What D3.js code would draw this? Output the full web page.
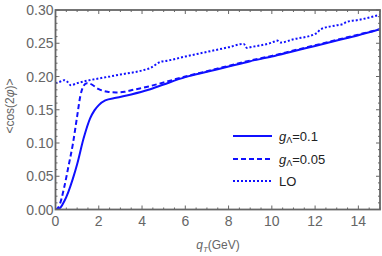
<!DOCTYPE html>
<html>
<head>
<meta charset="utf-8">
<style>
  body { margin: 0; background: #fff; }
  svg { display: block; font-family: "Liberation Sans", Arial, sans-serif; }
</style>
</head>
<body>
<svg id="chart" width="382" height="256"></svg>
<script src="https://cdn.jsdelivr.net/npm/d3@7"></script>
<script>
// g_Λ = 0.1 (solid)
var qSolid = [0, 0.2, 0.4, 0.6, 0.8, 1.0, 1.3, 1.6, 1.8, 2.0, 2.3, 2.8, 3.5, 4.3, 5, 6, 7, 8, 9, 10, 11, 12, 13, 14, 15];
var vSolid = [0, 0.002, 0.012, 0.027, 0.046, 0.068, 0.107, 0.137, 0.149, 0.157, 0.164, 0.168, 0.173, 0.180, 0.188, 0.199, 0.207, 0.215, 0.223, 0.230, 0.238, 0.246, 0.254, 0.262, 0.271];
// g_Λ = 0.05 (dashed)
var qDashed = [0, 0.1, 0.2, 0.4, 0.6, 0.8, 1.0, 1.15, 1.3, 1.45, 1.6, 2.0, 2.4, 2.8, 3.2, 3.6, 4.3, 5, 6, 7, 8, 9, 10, 11, 12, 13, 14, 15];
var vDashed = [0, 0.002, 0.008, 0.033, 0.065, 0.098, 0.140, 0.171, 0.186, 0.190, 0.189, 0.181, 0.177, 0.176, 0.177, 0.180, 0.185, 0.191, 0.200, 0.208, 0.216, 0.224, 0.231, 0.239, 0.247, 0.255, 0.263, 0.271];
// LO (dotted)
var qLO = [0, 0.2, 0.4, 0.55, 0.7, 1.0, 1.5, 2, 3, 4, 4.4, 4.85, 5.2, 6, 7, 8, 8.7, 8.85, 9, 10, 10.25, 10.4, 11, 12, 12.1, 12.25, 13, 13.3, 13.45, 14, 15];
var vLO = [0.190, 0.192, 0.1945, 0.192, 0.187, 0.19, 0.194, 0.197, 0.203, 0.209, 0.213, 0.222, 0.224, 0.23, 0.237, 0.244, 0.249, 0.243, 0.244, 0.251, 0.254, 0.251, 0.256, 0.264, 0.266, 0.271, 0.277, 0.279, 0.282, 0.285, 0.293];

var xTicks = [0, 2, 4, 6, 8, 10, 12, 14];
var yTicks = [0, 0.05, 0.10, 0.15, 0.20, 0.25, 0.30];
var legendLabels = ["=0.1", "=0.05", "LO"];

var m = { left: 55.5, right: 380, top: 10, bottom: 209.5 };
var blue = "#1010ff", gray = "#666";

var svg = d3.select("#chart");
var x = d3.scaleLinear().domain([0, 15]).range([m.left, m.right]);
var y = d3.scaleLinear().domain([0, 0.30]).range([m.bottom, m.top]);

var series = [
  { q: qSolid, v: vSolid, dash: null },
  { q: qDashed, v: vDashed, dash: "5,3" },
  { q: qLO, v: vLO, dash: "2,2" }
];

var line = d3.line()
  .x(d => x(d[0]))
  .y(d => y(d[1]))
  .curve(d3.curveMonotoneX);

svg.append("clipPath").attr("id", "clip")
  .append("rect").attr("x", m.left).attr("y", m.top)
  .attr("width", m.right - m.left).attr("height", m.bottom - m.top);

svg.append("g").attr("clip-path", "url(#clip)")
  .selectAll("path")
  .data(series)
  .join("path")
    .attr("d", s => line(s.q.map((q, i) => [q, s.v[i]])))
    .attr("fill", "none")
    .attr("stroke", blue)
    .attr("stroke-width", 2)
    .attr("stroke-dasharray", s => s.dash);

// frame with ticks on all sides
var minorX = d3.range(0, 15.01, 0.5);
var minorY = d3.range(0, 0.3001, 0.01);

var frame = svg.append("g").attr("stroke", gray);
frame.append("rect")
  .attr("x", m.left).attr("y", m.top)
  .attr("width", m.right - m.left).attr("height", m.bottom - m.top)
  .attr("fill", "none").attr("stroke-width", 1.8);

minorX.forEach(function(t) {
  var major = Math.abs(t - Math.round(t / 2) * 2) < 1e-6;
  var len = major ? 4 : 2;
  frame.append("line").attr("x1", x(t)).attr("x2", x(t)).attr("y1", m.bottom).attr("y2", m.bottom - len).attr("stroke-width", 1);
  frame.append("line").attr("x1", x(t)).attr("x2", x(t)).attr("y1", m.top).attr("y2", m.top + len).attr("stroke-width", 1);
});
minorY.forEach(function(t) {
  var major = Math.abs(t * 100 - Math.round(t * 20) * 5) < 1e-6;
  var len = major ? 4 : 2;
  frame.append("line").attr("y1", y(t)).attr("y2", y(t)).attr("x1", m.left).attr("x2", m.left + len).attr("stroke-width", 1);
  frame.append("line").attr("y1", y(t)).attr("y2", y(t)).attr("x1", m.right).attr("x2", m.right - len).attr("stroke-width", 1);
});

// tick labels
svg.append("g").selectAll("text")
  .data(xTicks)
  .join("text")
    .attr("x", d => x(d))
    .attr("y", m.bottom + 16)
    .attr("text-anchor", "middle")
    .attr("font-size", 14)
    .attr("fill", gray)
    .text(d => d);

svg.append("g").selectAll("text")
  .data(yTicks)
  .join("text")
    .attr("x", m.left - 2)
    .attr("y", d => y(d) + 5)
    .attr("text-anchor", "end")
    .attr("font-size", 14)
    .attr("fill", gray)
    .text(d => d3.format(".2f")(d));

// axis titles
var xl = svg.append("text")
  .attr("x", 218).attr("y", 249)
  .attr("text-anchor", "middle")
  .attr("font-size", 12)
  .attr("fill", gray);
xl.append("tspan").attr("font-style", "italic").text("q");
xl.append("tspan").attr("font-style", "italic").attr("font-size", 8).attr("dy", 3).text("T");
xl.append("tspan").attr("dy", -3).text("(GeV)");

var yl = svg.append("text")
  .attr("transform", "translate(14," + 106 + ") rotate(-90)")
  .attr("text-anchor", "middle")
  .attr("font-size", 12)
  .attr("fill", gray);
yl.append("tspan").text("<cos(2");
yl.append("tspan").attr("font-style", "italic").text("φ");
yl.append("tspan").text(")>");

// legend
var legY = [136, 159, 181];
var leg = svg.append("g");
series.forEach(function(s, i) {
  leg.append("line")
    .attr("x1", 233).attr("x2", 272)
    .attr("y1", legY[i]).attr("y2", legY[i])
    .attr("stroke", blue).attr("stroke-width", 2)
    .attr("stroke-dasharray", s.dash);
  var t = leg.append("text")
    .attr("x", 279).attr("y", legY[i] + 4.5)
    .attr("font-size", 13)
    .attr("fill", "#222");
  if (i < 2) {
    t.append("tspan").attr("font-style", "italic").text("g");
    t.append("tspan").attr("font-size", 9).attr("dy", 2).text("Λ");
    t.append("tspan").attr("dy", -2).text(legendLabels[i]);
  } else {
    t.text(legendLabels[i]);
  }
});
</script>
</body>
</html>
